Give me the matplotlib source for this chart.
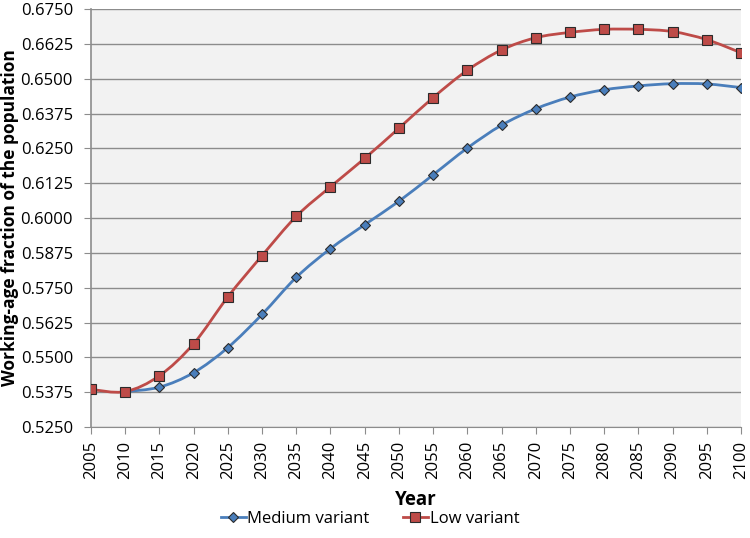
import numpy as np
import matplotlib
matplotlib.use("Agg")
import matplotlib.pyplot as plt
from matplotlib.path import Path
from matplotlib.patches import PathPatch

plt.rcParams['font.family'] = ['Open Sans', 'DejaVu Sans']

years = list(range(2005, 2101, 5))
medium = [np.nan, 0.5377, 0.5393, 0.5445, 0.5535, 0.5654, 0.5787, 0.5890, 0.5976,
          0.6060, 0.6155, 0.6251, 0.6333, 0.6392, 0.6434, 0.6460, 0.6474, 0.6482,
          0.6481, 0.6468]
low = [0.5385, 0.5377, 0.5434, 0.5549, 0.5717, 0.5865, 0.6006, 0.6112, 0.6214,
       0.6322, 0.6432, 0.6530, 0.6603, 0.6647, 0.6666, 0.6677, 0.6677, 0.6669,
       0.6640, 0.6593]
y_ticks = np.arange(0.5250, 0.67501, 0.0125)


def smooth_path(xs, ys):
    # Excel-style smoothed line: cubic Bezier segments (Catmull-Rom control points)
    pts = [(x, y) for x, y in zip(xs, ys) if not np.isnan(y)]
    pts = np.array(pts, dtype=float)
    verts = [pts[0]]
    codes = [Path.MOVETO]
    n = len(pts)
    for i in range(n - 1):
        p0 = pts[i - 1] if i > 0 else pts[i]
        p1 = pts[i]
        p2 = pts[i + 1]
        p3 = pts[i + 2] if i + 2 < n else pts[i + 1]
        c1 = p1 + (p2 - p0) / 6.0
        c2 = p2 - (p3 - p1) / 6.0
        verts += [c1, c2, p2]
        codes += [Path.CURVE4] * 3
    return Path(verts, codes)


fig = plt.figure(figsize=(7.5, 5.38), dpi=100)
ax = fig.add_axes([91 / 750, 1 - 427 / 538, 650 / 750, 418 / 538])
ax.set_facecolor('#F2F2F2')

series = [
    ("Medium variant", medium, '#4A7EBB', 'D', 5.2),
    ("Low variant", low, '#BE4B48', 's', 6.5),
]
handles = []
for name, vals, color, marker, ms in series:
    ax.add_patch(PathPatch(smooth_path(years, vals), facecolor='none',
                           edgecolor=color, lw=2.0, zorder=3))
    ax.plot(years, vals, linestyle='none', marker=marker, markersize=ms,
            markerfacecolor=color, markeredgecolor='#2b2b2b', markeredgewidth=0.8,
            zorder=4)
    # legend proxy
    h, = ax.plot([], [], color=color, lw=2.0, marker=marker, markersize=ms,
                 markerfacecolor=color, markeredgecolor='#2b2b2b',
                 markeredgewidth=0.8, label=name)
    handles.append(h)

ax.set_xlim(2005, 2100)
ax.set_ylim(0.5250, 0.6750)
ax.set_yticks(y_ticks)
ax.set_yticklabels([f"{v:.4f}" for v in y_ticks], fontsize=12)
ax.set_xticks(years)
ax.set_xticklabels([str(y) for y in years], rotation=90, fontsize=12)
ax.grid(axis='y', color='#8C8C8C', lw=1)
ax.set_axisbelow(True)
for s in ['top', 'right']:
    ax.spines[s].set_visible(False)
ax.spines['left'].set_color('#8C8C8C')
ax.spines['bottom'].set_color('#8C8C8C')
ax.spines['left'].set_linewidth(1.2)
ax.tick_params(axis='y', color='#8C8C8C', length=5, direction='out', pad=8)
ax.tick_params(axis='x', color='#8C8C8C', length=5, direction='out', pad=5)

ax.set_xlabel("Year", fontsize=13.5, fontweight='bold')
ax.xaxis.set_label_coords(0.5, (427 - 490) / 418)
ax.set_ylabel("Working-age fraction of the population", fontsize=12.5,
              fontweight='bold')
ax.yaxis.set_label_coords((19 - 91) / 650, 0.5)

fig.legend(handles=handles, loc='center', bbox_to_anchor=(370 / 750, 1 - 519 / 538),
           ncol=2, frameon=False, fontsize=12, handlelength=1.5,
           handletextpad=0.1, columnspacing=2.0)

fig.savefig("out.png", dpi=100)
